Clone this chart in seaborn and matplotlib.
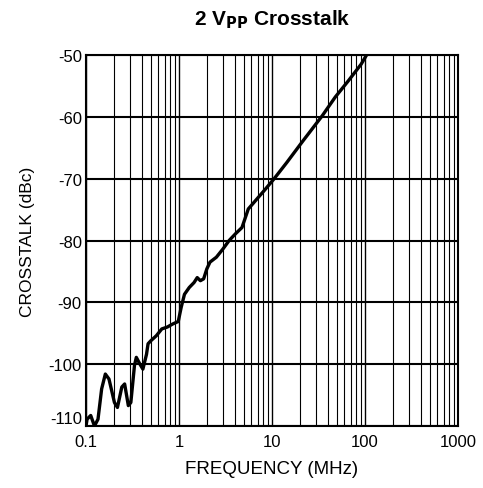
import matplotlib
matplotlib.use("Agg")
import matplotlib.pyplot as plt
import seaborn as sns
import pandas as pd
import numpy as np
from matplotlib.ticker import LogLocator, FixedLocator, NullFormatter

freq_mhz = [0.1, 0.1027, 0.1124, 0.1233, 0.1346, 0.1473, 0.1614, 0.1766, 0.2022, 0.2178,
            0.2427, 0.2603, 0.2852, 0.3035, 0.3321, 0.3476, 0.3801, 0.4090, 0.4474, 0.4648,
            0.4989, 0.5708, 0.6531, 0.7477, 0.8570, 0.9817, 1.056, 1.145, 1.289, 1.451,
            1.570, 1.698, 1.841, 1.991, 2.153, 2.523, 2.958, 3.460, 4.057, 4.756,
            5.56, 8.27, 10.49, 14.4, 21.5, 34.8, 47.9, 66.0, 90.8, 104.0]
crosstalk_dbc = [-110.0, -108.9, -108.3, -110.0, -108.9, -104.0, -101.6, -102.4, -106.2, -107.0,
                 -103.7, -103.2, -106.7, -106.2, -100.2, -98.9, -100.0, -100.8, -98.4, -96.7,
                 -96.2, -95.4, -94.3, -94.0, -93.5, -93.1, -90.8, -88.7, -87.6, -86.8,
                 -86.0, -86.5, -86.2, -84.6, -83.5, -82.7, -81.4, -80.0, -78.9, -77.9,
                 -74.9, -71.9, -70.05, -67.4, -63.9, -59.8, -56.8, -54.2, -51.5, -50.0]

x_ticks = [0.1, 1, 10, 100, 1000]
x_tick_labels = ["0.1", "1", "10", "100", "1000"]
y_ticks = [-110, -100, -90, -80, -70, -60, -50]

sns.set_style("white")
plt.rcParams['font.family'] = ['Liberation Sans', 'DejaVu Sans']
plt.rcParams['text.color'] = 'black'
plt.rcParams['axes.labelcolor'] = 'black'
plt.rcParams['xtick.color'] = 'black'
plt.rcParams['ytick.color'] = 'black'

fig = plt.figure(figsize=(4.83, 4.89), dpi=100)
ax = fig.add_axes([86/483, 1 - 427/489, (458 - 86)/483, (427 - 56)/489])

df = pd.DataFrame({"f": freq_mhz, "db": crosstalk_dbc})
sns.lineplot(data=df, x="f", y="db", ax=ax, color="black", linewidth=2.4,
             sort=False, estimator=None, zorder=5)

ax.set_xscale("log")
ax.set_xlim(0.1, 1000)
ax.set_ylim(-110, -50)
ax.xaxis.set_major_locator(FixedLocator(x_ticks))
ax.set_xticklabels(x_tick_labels)
ax.xaxis.set_minor_locator(LogLocator(base=10, subs=np.arange(2, 10)))
ax.xaxis.set_minor_formatter(NullFormatter())
ax.set_yticks(y_ticks)
ax.set_yticklabels([str(v) for v in y_ticks])

ax.grid(True, which="major", axis="x", color="black", linewidth=1.0)
ax.grid(True, which="minor", axis="x", color="black", linewidth=0.8)
ax.grid(True, which="major", axis="y", color="black", linewidth=1.5)
ax.tick_params(axis="both", which="both", length=0, labelsize=12, colors="black",
               labelcolor="black")
ax.tick_params(axis="x", pad=6)
ax.tick_params(axis="y", pad=3)
for lbl in ax.get_yticklabels():
    if lbl.get_text() == "-110":
        lbl.set_va("bottom")
for s in ax.spines.values():
    s.set_color("black")
    s.set_linewidth(1.5)
    s.set_visible(True)

ax.set_xlabel("FREQUENCY (MHz)", fontsize=13.5, labelpad=8, color="black")
ax.set_ylabel("CROSSTALK (dBc)", fontsize=12.5, labelpad=10, color="black")
fig.text(272/483, 1 - 20/489, r"2 V$_{\mathbf{PP}}$ Crosstalk", ha="center", va="center",
         fontsize=15, fontweight="bold", color="black")

fig.savefig("out.png", dpi=100, facecolor="white")
